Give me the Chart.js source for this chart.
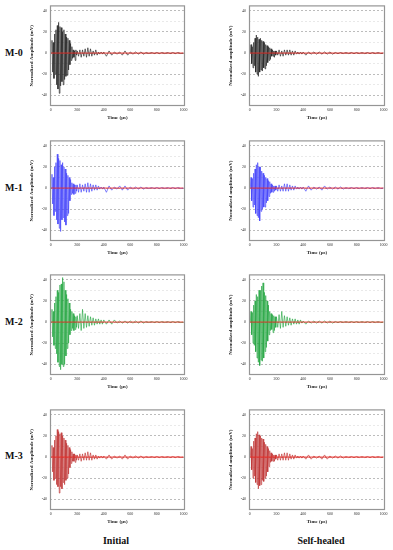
<!DOCTYPE html>
<html>
<head>
<meta charset="utf-8">
<script src="https://cdn.jsdelivr.net/npm/chart.js@4.4.1/dist/chart.umd.min.js"></script>
<style>
  body { margin: 0; background: #fff; width: 393px; height: 550px; position: relative; overflow: hidden; }
  canvas { position: absolute; }
  .lbl { position: absolute; font-family: "Liberation Serif", serif; font-weight: bold; color: #111; white-space: nowrap; }
</style>
<script>
// time axis (µs), shared by every trace
const timeUs = [5,10,15,20,25,30,35,40,45,50,
  55,60,65,70,75,80,85,90,95,100,
  105,110,115,120,125,130,135,140,145,150,
  155,160,165,170,175,180,185,190,195,200,
  210,220,230,240,250,260,270,280,290,300,
  310,320,330,340,350,360,370,380,390,400,
  420,440,460,480,500,520,540,560,580,600,
  620,640,660,680,700,720,740,760,780,800,
  820,840,860,880,900,920,940,960,980,1000];

const xTicks = [0, 200, 400, 600, 800, 1000];
const yTicks = [-40, -30, -20, -10, 0, 10, 20, 30, 40];

const rowLabels = ["M-0", "M-1", "M-2", "M-3"];
const colLabels = ["Initial", "Self-healed"];

// normalized amplitude (mV)
const m0Initial = [0,12,-18,10,-24,18,-20,22,-30,26,
  -34,29,-38,25,-31,24,-27,20,-30,22,
  -25,18,-22,15,-21,14,-16,12,-11,9,
  -7,6,-5,3,-4,2,-7,3,-2,2,
  -3,3,-4,3,-3,4,-4,5,-3,4,
  -3,2,-2,3,-2,1,-1,1,-1,1,
  -3,2,-2,1,-1,1,-2,2,-2,1,
  -1,1,-1,1,-1,0.5,-0.5,0.5,-0.5,0.5,
  -0.5,0.5,-0.5,0.5,-0.5,0.5,-0.5,0.5,-0.5,0];
const m0Healed = [0,8,-10,6,-14,10,-12,14,-18,17,
  -20,15,-22,13,-18,14,-16,12,-17,11,
  -14,10,-15,8,-12,7,-9,6,-7,5,
  -6,4,-3,3,-3,2,-4,2,-2,2,
  -2,3,-3,2,-3,3,-2,3,-2,3,
  -2,2,-2,2,-1,1,-1,1,-1,1,
  -2,1,-1,1,-1,1,-1,1,-1,1,
  -1,0.5,-0.5,0.5,-0.5,0.5,-0.5,0.5,-0.5,0.5,
  -0.5,0.5,-0.5,0.5,-0.5,0.5,-0.5,0.5,-0.5,0];
const m1Initial = [0,13,-15,10,-26,20,-22,24,-30,32,
  -34,28,-38,26,-41,22,-30,24,-28,20,
  -32,18,-35,14,-26,12,-24,10,-12,8,
  -6,5,-5,4,-6,3,-5,3,-3,3,
  -4,4,-4,3,-3,4,-4,5,-4,4,
  -3,3,-2,3,-2,2,-1,1,-1,1,
  -4,2,-2,1,-1,2,-2,2,-2,1,
  -1,1,-1,1,-1,0.5,-0.5,0.5,-0.5,0.5,
  -0.5,0.5,-0.5,0.5,-0.5,0.5,-0.5,0.5,-0.5,0];
const m1Healed = [0,10,-12,9,-18,14,-16,18,-24,22,
  -26,24,-28,20,-31,20,-22,16,-20,14,
  -18,12,-18,10,-14,9,-12,7,-8,6,
  -5,4,-4,3,-4,2,-3,2,-2,2,
  -3,3,-3,2,-3,4,-3,4,-3,3,
  -2,2,-2,2,-1,1,-1,1,-1,1,
  -3,2,-2,1,-1,1,-2,2,-1,1,
  -1,1,-1,1,-1,0.5,-0.5,0.5,-0.5,0.5,
  -0.5,0.5,-0.5,0.5,-0.5,0.5,-0.5,0.5,-0.5,0];
const m2Initial = [0,12,-14,10,-22,18,-25,24,-30,30,
  -38,28,-42,35,-45,36,-40,42,-42,38,
  -40,30,-32,26,-25,22,-20,18,-12,12,
  -8,10,-6,8,-8,6,-7,5,-5,6,
  -6,8,-8,12,-6,8,-5,6,-4,5,
  -3,4,-3,3,-2,3,-2,2,-2,2,
  -2,2,-2,2,-1,1,-1,1,-1,1,
  -1,1,-1,1,-1,0.5,-0.5,0.5,-0.5,0.5,
  -0.5,0.5,-0.5,0.5,-0.5,0.5,-0.5,0.5,-0.5,0];
const m2Healed = [0,10,-12,9,-20,16,-22,20,-28,26,
  -34,24,-38,30,-41,30,-36,34,-37,37,
  -34,28,-28,25,-24,20,-18,16,-12,10,
  -8,8,-7,7,-10,6,-8,5,-5,5,
  -5,7,-6,10,-5,6,-4,5,-3,4,
  -3,3,-2,3,-2,2,-2,2,-1,1,
  -2,1,-1,1,-1,1,-1,1,-1,1,
  -1,0.5,-0.5,0.5,-0.5,0.5,-0.5,0.5,-0.5,0.5,
  -0.5,0.5,-0.5,0.5,-0.5,0.5,-0.5,0.5,-0.5,0];
const m3Initial = [0,11,-14,9,-22,16,-20,20,-26,26,
  -28,24,-34,22,-28,23,-30,20,-24,18,
  -26,16,-22,13,-20,11,-16,9,-10,7,
  -6,5,-4,3,-4,3,-5,2,-3,2,
  -3,3,-4,3,-3,4,-3,5,-3,4,
  -3,2,-2,2,-2,1,-1,1,-1,1,
  -2,2,-2,1,-1,1,-2,2,-2,1,
  -1,1,-1,1,-1,0.5,-0.5,0.5,-0.5,0.5,
  -0.5,0.5,-0.5,0.5,-0.5,0.5,-0.5,0.5,-0.5,0];
const m3Healed = [0,10,-12,8,-20,15,-18,18,-24,22,
  -26,24,-30,21,-27,20,-26,18,-22,17,
  -23,14,-20,12,-18,10,-14,8,-9,6,
  -5,4,-4,3,-4,2,-4,2,-2,2,
  -3,3,-3,3,-3,4,-3,4,-3,3,
  -2,2,-2,2,-1,1,-1,1,-1,1,
  -2,2,-2,1,-1,1,-2,2,-2,1,
  -1,1,-1,1,-1,0.5,-0.5,0.5,-0.5,0.5,
  -0.5,0.5,-0.5,0.5,-0.5,0.5,-0.5,0.5,-0.5,0];

const zeroLine = [{x: 0, y: 0}, {x: 1000, y: 0}];
</script>
</head>
<body>
<script>
const FONT = "'Liberation Serif', 'Times New Roman', serif";

const panels = [
  {row: 0, col: 0, data: m0Initial, color: "#222222"},
  {row: 0, col: 1, data: m0Healed,  color: "#222222"},
  {row: 1, col: 0, data: m1Initial, color: "rgb(65,65,250)"},
  {row: 1, col: 1, data: m1Healed,  color: "rgb(65,65,250)"},
  {row: 2, col: 0, data: m2Initial, color: "rgb(35,165,65)"},
  {row: 2, col: 1, data: m2Healed,  color: "rgb(35,165,65)"},
  {row: 3, col: 0, data: m3Initial, color: "rgb(190,50,50)"},
  {row: 3, col: 1, data: m3Healed,  color: "rgb(190,50,50)"}
];

const rowTop = [0, 135, 269, 404];
const colLeft = [29, 228];
const colWidth = [161, 162];

// gray frame around the plot area
const framePlugin = {
  id: "frame",
  afterDraw(chart) {
    const a = chart.chartArea, ctx = chart.ctx;
    ctx.save();
    ctx.strokeStyle = "#959595";
    ctx.lineWidth = 1.2;
    ctx.strokeRect(a.left + 0.5, a.top + 0.5, a.right - a.left - 1, a.bottom - a.top - 1);
    ctx.restore();
  }
};

function makePanel(p) {
  const c = document.createElement("canvas");
  c.width = colWidth[p.col];
  c.height = 121;
  c.style.left = colLeft[p.col] + "px";
  c.style.top = rowTop[p.row] + "px";
  document.body.appendChild(c);

  const yTitle = p.col === 0 ? "Normalized Amplitude (mV)" : "Normalized amplitude (mV)";
  const wave = timeUs.map((t, i) => ({x: t, y: p.data[i]}));

  new Chart(c, {
    type: "line",
    data: {
      datasets: [
        {data: zeroLine, borderColor: "#ee2a22", borderWidth: 0.9, pointRadius: 0, order: 0},
        {data: wave, borderColor: p.color, borderWidth: 0.65, pointRadius: 0, tension: 0, order: 1}
      ]
    },
    options: {
      responsive: false,
      animation: false,
      devicePixelRatio: 1,
      layout: {padding: {top: 5, right: 5, left: 0, bottom: 0}},
      plugins: {legend: {display: false}, tooltip: {enabled: false}},
      scales: {
        x: {
          type: "linear",
          min: -5,
          max: 1012,
          afterBuildTicks: s => { s.ticks = xTicks.map(v => ({value: v})); },
          afterFit: s => { s.height = 15; },
          grid: {display: false, drawTicks: false},
          border: {display: false},
          ticks: {font: {family: FONT, size: 4}, color: "#333", padding: 2, maxRotation: 0, callback: v => String(v)},
          title: {display: true, text: "Time (μs)", font: {family: FONT, size: 5, weight: "bold"}, color: "#222", padding: 0}
        },
        y: {
          min: -50,
          max: 45,
          afterBuildTicks: s => { s.ticks = yTicks.map(v => ({value: v})); },
          afterFit: s => { s.width = 21; },
          grid: {
            drawTicks: false,
            color: ctx => (ctx.tick && ctx.tick.value % 20 === 0) ? "#a0a0a0" : "#e0e0e0",
            lineWidth: 0.7
          },
          border: {display: false, dash: [2, 2]},
          ticks: {
            font: {family: FONT, size: 4}, color: "#333", padding: 3,
            callback: v => (v % 20 === 0 ? String(v) : "")
          },
          title: {display: true, text: yTitle, font: {family: FONT, size: 5, weight: "bold"}, color: "#222", padding: 0}
        }
      }
    },
    plugins: [framePlugin]
  });
}

panels.forEach(makePanel);

// row and column captions
const rowMid = [53, 188, 322, 456];
rowLabels.forEach((t, i) => {
  const d = document.createElement("div");
  d.className = "lbl";
  d.textContent = t;
  d.style.fontSize = "10px";
  d.style.left = "5px";
  d.style.top = (rowMid[i] - 6) + "px";
  document.body.appendChild(d);
});
const colMid = [116, 321];
colLabels.forEach((t, i) => {
  const d = document.createElement("div");
  d.className = "lbl";
  d.textContent = t;
  d.style.fontSize = "10px";
  d.style.left = colMid[i] + "px";
  d.style.top = "535px";
  d.style.transform = "translateX(-50%)";
  document.body.appendChild(d);
});
</script>
</body>
</html>
